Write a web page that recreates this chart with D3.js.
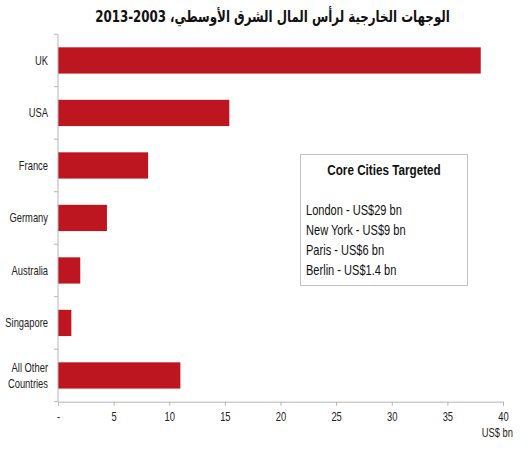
<!DOCTYPE html>
<html><head><meta charset="utf-8">
<script src="https://cdn.jsdelivr.net/npm/d3@7"></script>
<style>
body{margin:0;background:#fff;}
text{font-family:"Liberation Sans",Arial,sans-serif;}
</style></head>
<body>
<svg id="c" width="531" height="450"></svg>
<script>
const title = "الوجهات الخارجية لرأس المال الشرق الأوسطي، 2003-2013";
const categories = ["UK","USA","France","Germany","Australia","Singapore","All Other Countries"];
const values = [38.0, 15.4, 8.1, 4.4, 2.0, 1.2, 11.0];
const xTicks = [0,5,10,15,20,25,30,35,40];
const xTickLabels = ["-","5","10","15","20","25","30","35","40"];
const unitLabel = "US$ bn";
const boxTitle = "Core Cities Targeted";
const boxLines = ["London - US$29 bn","New York - US$9 bn","Paris - US$6 bn","Berlin - US$1.4 bn"];

(function(){
const svg = d3.select("#c");
const SX = 0.75; // condensed look
const mLeft = 58, mRight = 503, mTop = 34.2, mBottom = 401.7;
const x = d3.scaleLinear().domain([0,40]).range([mLeft,mRight]);
const y = d3.scaleBand().domain(categories).range([mTop,mBottom]).paddingInner(0.5).paddingOuter(0.25);

function ntext(px, py, sx){
  return svg.append("text").attr("transform",`translate(${px},${py}) scale(${sx||SX},1)`);
}

// title, fitted to the reference width
const tt = svg.append("text").attr("x",0).attr("y",0).attr("text-anchor","middle")
  .attr("direction","rtl")
  .style("font-family","'DejaVu Sans',Arial,sans-serif").style("font-weight","bold").style("font-size","16px")
  .attr("fill","#111").text(title);
const tw = tt.node().getComputedTextLength();
tt.attr("transform",`translate(272.5,21.5) scale(${355/tw},1)`);

// bars
svg.append("g").selectAll("rect").data(values).join("rect")
  .attr("x",x(0)).attr("y",(d,i)=>y(categories[i]))
  .attr("width",d=>x(d)-x(0)).attr("height",y.bandwidth())
  .attr("fill","#bd1620");

// y axis line and ticks at band boundaries
const ga = svg.append("g");
ga.append("line").attr("x1",mLeft).attr("x2",mLeft).attr("y1",mTop).attr("y2",mBottom)
  .attr("stroke","#b5b5b5").attr("stroke-width",1);
const step = y.step();
const boundaries = d3.range(categories.length+1).map(i=>mTop + i*step);
ga.selectAll("line.yt").data(boundaries).join("line").attr("class","yt")
  .attr("x1",mLeft-4).attr("x2",mLeft).attr("y1",d=>d).attr("y2",d=>d)
  .attr("stroke","#b5b5b5");

// y labels
categories.forEach((c,i)=>{
  const cy = y(c)+y.bandwidth()/2;
  const t = ntext(48, cy).attr("text-anchor","end")
    .style("font-size","12.5px").attr("fill","#222");
  if(c==="All Other Countries"){
    t.append("tspan").attr("x",0).attr("y",-3).text("All Other");
    t.append("tspan").attr("x",0).attr("y",13).text("Countries");
  } else {
    t.attr("y",4.5).text(c);
  }
});

// x axis
const xa = svg.append("g").attr("transform",`translate(0,${mBottom})`)
  .call(d3.axisBottom(x).tickValues(xTicks).tickSize(4).tickFormat((d,i)=>xTickLabels[i]));
xa.select(".domain").attr("stroke","#b5b5b5");
xa.selectAll(".tick line").attr("stroke","#b5b5b5");
xa.selectAll(".tick text").attr("y",12).attr("dy","0.6em").style("font-size","12.5px").attr("fill","#222")
  .attr("transform",`scale(${SX},1)`)
  .style("font-family","'Liberation Sans',Arial,sans-serif");

ntext(513, 437).attr("text-anchor","end")
  .style("font-size","12.5px").attr("fill","#222").text(unitLabel);

// box
svg.append("rect").attr("x",300.5).attr("y",154.5).attr("width",167).attr("height",131)
  .attr("fill","#fff").attr("stroke","#c0c0c0");
ntext(384, 175, 0.78).attr("text-anchor","middle")
  .style("font-size","15px").style("font-weight","bold").attr("fill","#111").text(boxTitle);
boxLines.forEach((d,i)=>{
  ntext(306, 215+i*20, 0.79).style("font-size","14px").attr("fill","#111").text(d);
});
})();
</script>
</body></html>
